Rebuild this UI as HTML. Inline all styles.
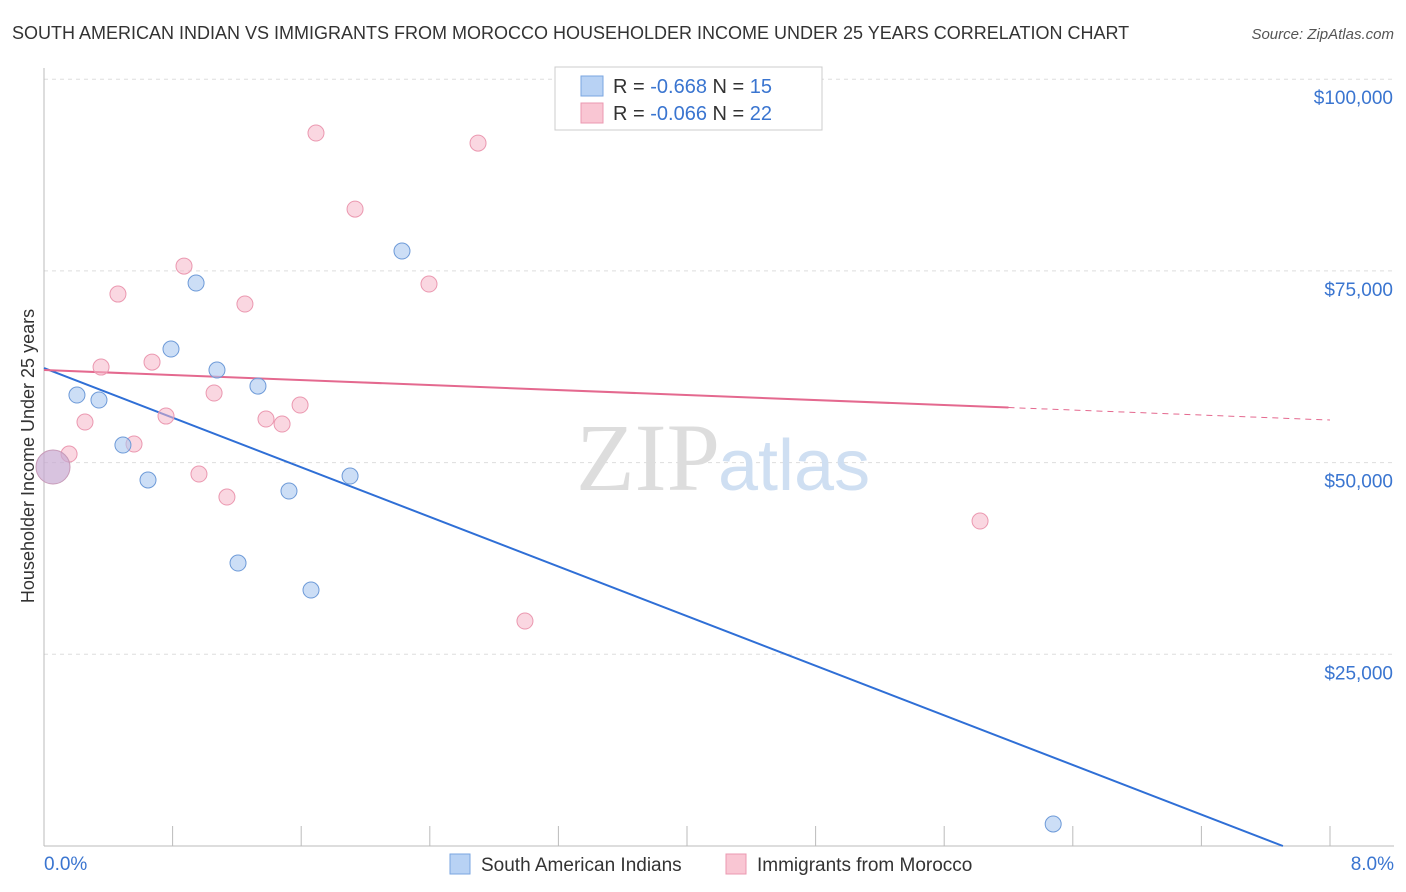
<!DOCTYPE html>
<html><head><meta charset="utf-8">
<style>
body{margin:0;background:#fff;font-family:"Liberation Sans",sans-serif;}
svg{display:block}
</style></head>
<body>
<svg id="chart" width="1406" height="892" xmlns="http://www.w3.org/2000/svg">
<text x="12" y="39" font-size="18" fill="#333">SOUTH AMERICAN INDIAN VS IMMIGRANTS FROM MOROCCO HOUSEHOLDER INCOME UNDER 25 YEARS CORRELATION CHART</text>
<text x="1394" y="39" font-size="15" fill="#555" font-style="italic" text-anchor="end">Source: ZipAtlas.com</text>
<g id="grid"></g>
<g id="axes"></g>
<text x="720" y="490" font-size="96" fill="#ddd" text-anchor="end" font-family="Liberation Serif,serif">ZIP</text>
<text x="718" y="490" font-size="72" fill="#cfdff2">atlas</text>
<g id="lines"></g>
<g id="points"></g>
<text transform="translate(34,456) rotate(-90)" font-size="18" fill="#333" text-anchor="middle">Householder Income Under 25 years</text>
<g>
<rect x="555" y="67" width="267" height="63" fill="#fff" stroke="#ccc"/>
<rect x="581" y="76" width="22" height="20" fill="#b8d2f4" stroke="#7aa6e0"/>
<rect x="581" y="103" width="22" height="20" fill="#f9c6d3" stroke="#eb98b0"/>
<text x="613" y="93" font-size="20" fill="#333">R = <tspan fill="#3a75d0">-0.668</tspan>   N = <tspan fill="#3a75d0">15</tspan></text>
<text x="613" y="120" font-size="20" fill="#333">R = <tspan fill="#3a75d0">-0.066</tspan>   N = <tspan fill="#3a75d0">22</tspan></text>
</g>
<g>
<rect x="450" y="854" width="20" height="20" fill="#b8d2f4" stroke="#7aa6e0"/>
<text x="481" y="871" font-size="19" fill="#333">South American Indians</text>
<rect x="726" y="854" width="20" height="20" fill="#f9c6d3" stroke="#eb98b0"/>
<text x="757" y="871" font-size="19" fill="#333">Immigrants from Morocco</text>
</g>
</svg>
<script>
const blueX=[0.205,0.342,0.491,0.647,0.790,0.946,1.076,1.207,1.331,1.524,1.661,1.904,2.227,6.278];
const blueY=[58810,58160,52290,47730,64810,73420,62070,36900,59980,46290,33380,48250,77590,2870];
const pinkX=[0.156,0.255,0.355,0.460,0.560,0.672,0.759,0.871,0.964,1.058,1.138,1.250,1.381,1.481,1.593,1.692,1.935,2.395,2.700,2.992,5.823];
const pinkY=[51120,55290,62460,71980,52420,63110,56070,75630,48510,59070,45510,70680,55680,55030,57510,92980,83060,73290,91670,29340,42380];
const bigPoint=[0.056,49420];
const blueTrend=[62330,0,7.707];      // intercept, value at end, end x
const pinkTrend=[62070,55550,6.0];    // intercept, value at 8%, solid end x
const yTicks=[25000,50000,75000,100000];
const yTickLabels=["$25,000","$50,000","$75,000","$100,000"];
const xTicks=[0,0.8,1.6,2.4,3.2,4.0,4.8,5.6,6.4,7.2,8.0];
const NS="http://www.w3.org/2000/svg";
const xs=v=>44+v/8*1286;
const ys=v=>846-v/25000*191.7;
function mk(tag,attrs,parent){const e=document.createElementNS(NS,tag);for(const k in attrs)e.setAttribute(k,attrs[k]);document.getElementById(parent).appendChild(e);return e;}
yTicks.forEach((t,i)=>{
  const l=mk('line',{x1:44,x2:1394,y1:ys(t),y2:ys(t),stroke:'#ddd','stroke-dasharray':'4,4'},'grid');
  
  
  const tx=mk('text',{x:1393,y:ys(t)+25,'font-size':19,fill:'#3a75d0','text-anchor':'end'},'axes');
  tx.textContent=yTickLabels[i];
  
  
});
const ax=mk('line',{x1:44,x2:44,y1:68,y2:846,stroke:'#bbb'},'axes');


const bx=mk('line',{x1:44,x2:1394,y1:846,y2:846,stroke:'#bbb'},'axes');


xTicks.forEach(t=>{
  const l=mk('line',{x1:xs(t),x2:xs(t),y1:826,y2:846,stroke:'#bbb'},'axes');
  
  
});
const x0=mk('text',{x:44,y:870,'font-size':19,fill:'#3a75d0'},'axes');x0.textContent="0.0%";


const x1=mk('text',{x:1394,y:870,'font-size':19,fill:'#3a75d0','text-anchor':'end'},'axes');x1.textContent="8.0%";


// trends
const bl=mk('line',{x1:xs(0),y1:ys(blueTrend[0]),x2:xs(blueTrend[2]),y2:ys(blueTrend[1]),stroke:'#2f6fd6','stroke-width':2},'lines');


const pAt=x=>pinkTrend[0]+(pinkTrend[1]-pinkTrend[0])*x/8;
const pl=mk('line',{x1:xs(0),y1:ys(pinkTrend[0]),x2:xs(pinkTrend[2]),y2:ys(pAt(pinkTrend[2])),stroke:'#e4698f','stroke-width':2},'lines');


const pd=mk('line',{x1:xs(pinkTrend[2]),y1:ys(pAt(pinkTrend[2])),x2:xs(8),y2:ys(pinkTrend[1]),stroke:'#e4698f','stroke-width':1,'stroke-dasharray':'6,5'},'lines');


// points
pinkX.forEach((x,i)=>{
  const c=mk('circle',{cx:xs(x),cy:ys(pinkY[i]),r:8,fill:'rgba(246,182,200,0.55)',stroke:'#eb98b0','stroke-width':1},'points');
  
  
});
blueX.forEach((x,i)=>{
  const c=mk('circle',{cx:xs(x),cy:ys(blueY[i]),r:8,fill:'rgba(170,200,240,0.6)',stroke:'#6d9ad8','stroke-width':1},'points');
  
  
});
const bp=mk('circle',{cx:xs(bigPoint[0]),cy:ys(bigPoint[1]),r:17,fill:'rgba(200,170,210,0.7)',stroke:'#c79ab8','stroke-width':1},'points');


</script>
</body></html>
